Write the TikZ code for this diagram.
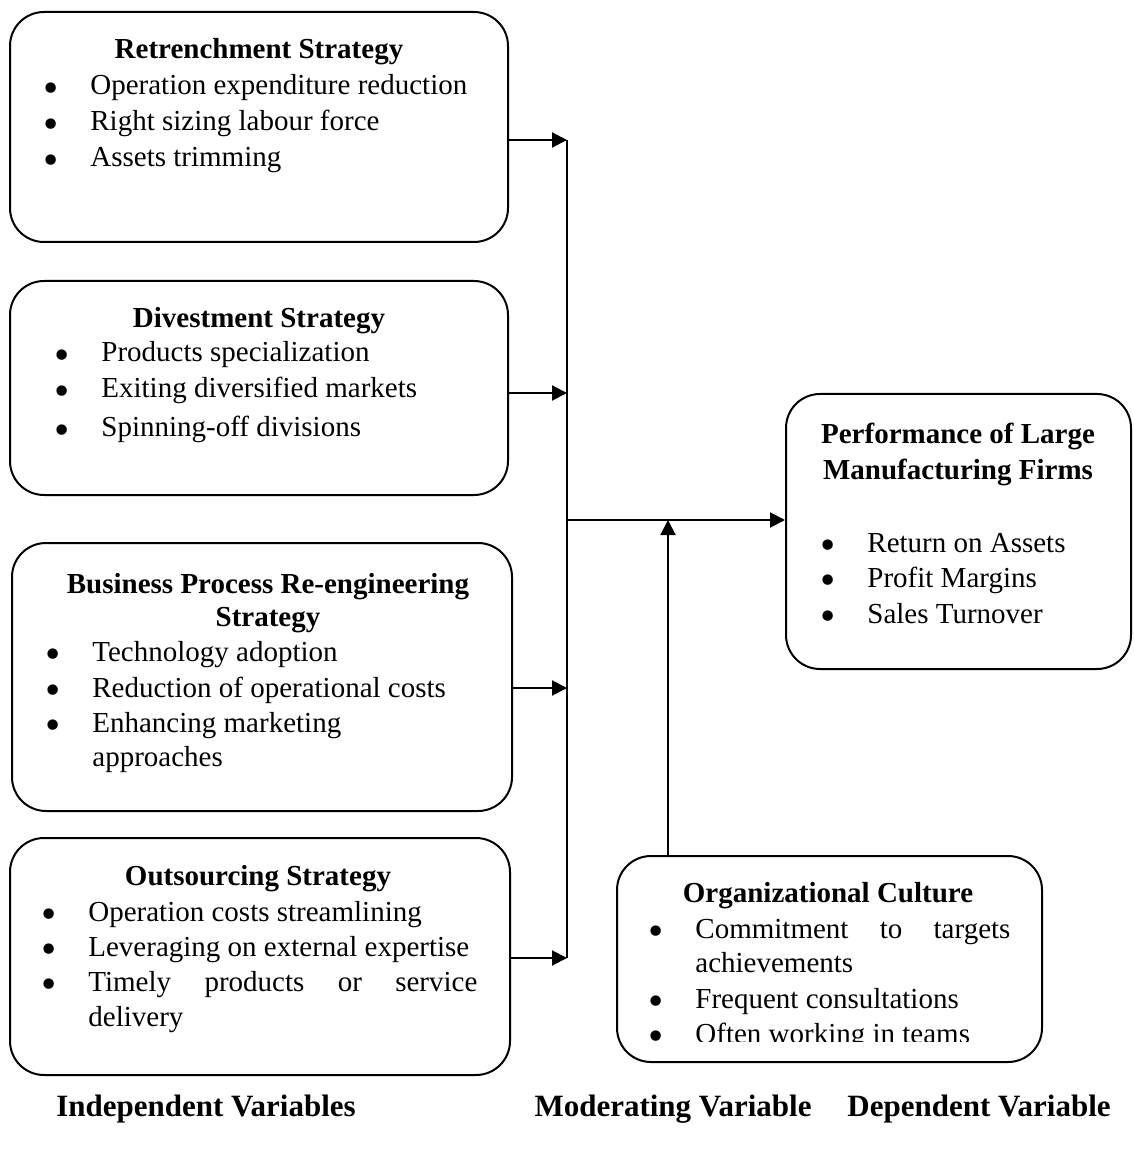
\documentclass[tikz,border=0pt]{standalone}
\usepackage{fontspec}
\setmainfont{Liberation Serif}
\usetikzlibrary{arrows.meta,fit}

\newcommand{\bul}{\makebox[23.5pt][l]{\smash{\raisebox{-3.6pt}{\scalebox{1.5}{\textbullet}}}}}

\begin{document}
\begin{tikzpicture}[x=0.5pt,y=-0.5pt,
    font=\fontsize{14.5pt}{17.5pt}\selectfont,
    box/.style={draw,line width=1pt,rounded corners=17pt,inner sep=0pt},
    txt/.style={anchor=base west,inner sep=0pt},
    ttl/.style={anchor=base,inner sep=0pt,font=\fontsize{14.5pt}{17.5pt}\selectfont\bfseries},
    lbl/.style={anchor=base,inner sep=0pt,font=\fontsize{15.5pt}{18pt}\selectfont\bfseries},
    arr/.style={line width=1pt,-{Triangle[length=7.5pt,width=7.5pt]}}]
    \useasboundingbox (0,0) rectangle (1133,1149);

    % Independent variables
    \node[box,fit={(10,12) (508,242)}] (ret) {};
    \node[ttl] (ret-t) at (259,59) {Retrenchment Strategy};
    \node[txt] (ret-1) at (43,95) {\bul Operation expenditure reduction};
    \node[txt] (ret-2) at (43,131) {\bul Right sizing labour force};
    \node[txt] (ret-3) at (43,167) {\bul Assets trimming};

    \node[box,fit={(10,281) (508,495)}] (div) {};
    \node[ttl] (div-t) at (259,328) {Divestment Strategy};
    \node[txt] (div-1) at (54,362) {\bul Products specialization};
    \node[txt] (div-2) at (54,398) {\bul Exiting diversified markets};
    \node[txt] (div-3) at (54,437) {\bul Spinning-off divisions};

    \node[box,fit={(12,543) (512,811)}] (bpr) {};
    \node[ttl] (bpr-t1) at (268,593) {Business Process Re-engineering};
    \node[ttl] (bpr-t2) at (268,626) {Strategy};
    \node[txt] (bpr-1) at (45,661) {\bul Technology adoption};
    \node[txt] (bpr-2) at (45,697) {\bul Reduction of operational costs};
    \node[txt] (bpr-3) at (45,732) {\bul Enhancing marketing};
    \node[txt] (bpr-4) at (92,766) {approaches};

    \node[box,fit={(10,838) (510,1075)}] (out) {};
    \node[ttl] (out-t) at (258,885) {Outsourcing Strategy};
    \node[txt] (out-1) at (41,921) {\bul Operation costs streamlining};
    \node[txt] (out-2) at (41,956) {\bul Leveraging on external expertise};
    \node[txt] (out-3) at (41,991) {\bul \makebox[194.5pt][s]{Timely products or service}};
    \node[txt] (out-4) at (88,1026) {delivery};

    % Dependent variable
    \node[box,fit={(786,394) (1131,669)}] (perf) {};
    \node[ttl] (perf-t1) at (958,444) {Performance of Large};
    \node[ttl] (perf-t2) at (958,479) {Manufacturing Firms};
    \node[txt] (perf-1) at (820,552) {\bul Return on Assets};
    \node[txt] (perf-2) at (820,587) {\bul Profit Margins};
    \node[txt] (perf-3) at (820,623) {\bul Sales Turnover};

    % Moderating variable
    \node[box,fit={(617,856) (1042,1062)}] (cult) {};
    \node[ttl] (cult-t) at (828,902) {Organizational Culture};
    \node[txt] (cult-1) at (648,938) {\bul \makebox[157.5pt][s]{Commitment to targets}};
    \node[txt] (cult-2) at (695,972) {achievements};
    \node[txt] (cult-3) at (648,1008) {\bul Frequent consultations};
    \begin{scope}
        \clip (600,1000) rectangle (1050,1041);
        \node[txt] (cult-4) at (648,1043) {\bul Often working in teams};
    \end{scope}

    % connectors
    \coordinate (j1) at (567,140);
    \coordinate (j2) at (567,393);
    \coordinate (j3) at (567,688);
    \coordinate (j4) at (567,958);
    \coordinate (jm) at (567,520);
    \coordinate (jc) at (668,520);
    \draw[arr] (ret.east |- j1) -- (j1);
    \draw[arr] (div.east |- j2) -- (j2);
    \draw[arr] (bpr.east |- j3) -- (j3);
    \draw[arr] (out.east |- j4) -- (j4);
    \draw[line width=1pt] (j1) -- (j4);
    \draw[arr] (jm) -- (perf.west |- jm);
    \draw[arr] (cult.north -| jc) -- (jc);

    % column labels
    \node[lbl] (indep) at (206,1116) {Independent Variables};
    \node[lbl] (moder) at (673,1116) {Moderating Variable};
    \node[lbl] (depen) at (979,1116) {Dependent Variable};
\end{tikzpicture}
\end{document}
